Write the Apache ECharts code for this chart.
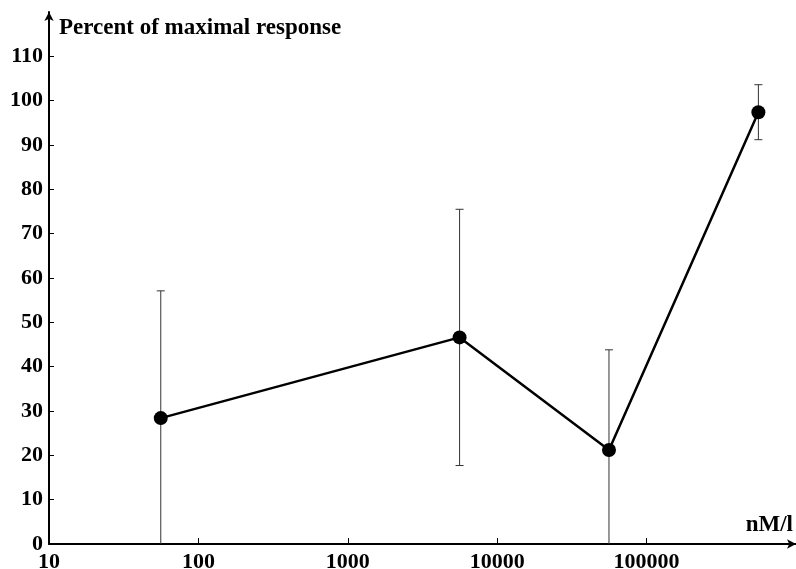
<!DOCTYPE html>
<html>
<head>
<meta charset="utf-8">
<script src="https://cdn.jsdelivr.net/npm/echarts@6/dist/echarts.min.js"></script>
<style>
html,body{margin:0;padding:0;background:#fff;}
#chart{width:796px;height:569px;}
</style>
</head>
<body>
<div id="chart"></div>
<script>
// Data
var concentrations = [56, 5600, 56000, 560000];          // nM/l
var meanResponse  = [28.4, 46.6, 21.2, 97.4];            // percent of maximal response
var errResponse   = [28.7, 28.9, 22.6, 6.2];             // +/- error
var xTickValues   = [10, 100, 1000, 10000, 100000];
var yTickValues   = [0, 10, 20, 30, 40, 50, 60, 70, 80, 90, 100, 110];
var yAxisTitle    = 'Percent of maximal response';
var xAxisTitle    = 'nM/l';

var FONT = '"Liberation Serif", "DejaVu Serif", serif';

var lineData = concentrations.map(function (c, i) { return [c, meanResponse[i]]; });
var errData = concentrations.map(function (c, i) {
  return [c, meanResponse[i] - errResponse[i], meanResponse[i] + errResponse[i]];
});

var chart = echarts.init(document.getElementById('chart'), null, {renderer: 'canvas'});
chart.setOption({
  animation: false,
  backgroundColor: '#fff',
  grid: {left: 49, right: 0, top: 12, bottom: 25, containLabel: false, outerBoundsMode: 'none'},
  xAxis: {
    type: 'log',
    logBase: 10,
    min: 10,
    max: 1000000,
    axisLine: {show: true, symbol: ['none', 'arrow'], symbolSize: [7, 9], lineStyle: {color: '#000', width: 2}},
    axisTick: {show: true, inside: true, length: 6, customValues: xTickValues, lineStyle: {color: '#000', width: 1}},
    axisLabel: {show: true, customValues: xTickValues, margin: 7, color: '#000', fontFamily: FONT, fontWeight: 'bold', fontSize: 22,
      formatter: function (v) { return String(Math.round(v)); }},
    splitLine: {show: false},
    minorTick: {show: false}
  },
  yAxis: {
    type: 'value',
    min: 0,
    max: 120,
    interval: 10,
    axisLine: {show: true, onZero: false, symbol: ['none', 'arrow'], symbolSize: [7, 9], lineStyle: {color: '#000', width: 2}},
    axisTick: {show: true, inside: true, length: 5, customValues: yTickValues, lineStyle: {color: '#000', width: 1}},
    axisLabel: {show: true, customValues: yTickValues, margin: 6, color: '#000', fontFamily: FONT, fontWeight: 'bold', fontSize: 22,
      formatter: function (v) { return String(Math.round(v)); }},
    splitLine: {show: false}
  },
  graphic: [
    {type: 'text', left: 59, top: 17, style: {text: yAxisTitle, fill: '#000', font: 'bold 23px ' + FONT}},
    {type: 'text', right: 3, top: 514, style: {text: xAxisTitle, fill: '#000', font: 'bold 23px ' + FONT}}
  ],
  series: [
    {
      type: 'custom',
      z: 1,
      data: errData,
      renderItem: function (params, api) {
        var x = api.value(0);
        var lo = api.value(1);
        var hi = api.value(2);
        var clipped = lo < 0;
        var top = api.coord([x, hi]);
        var bot = api.coord([x, Math.max(0, lo)]);
        var cw = 4;
        var style = {stroke: '#333', lineWidth: 1};
        var children = [
          {type: 'line', shape: {x1: top[0], y1: top[1], x2: bot[0], y2: bot[1]}, style: style},
          {type: 'line', shape: {x1: top[0] - cw, y1: top[1], x2: top[0] + cw, y2: top[1]}, style: style}
        ];
        if (!clipped) {
          children.push({type: 'line', shape: {x1: bot[0] - cw, y1: bot[1], x2: bot[0] + cw, y2: bot[1]}, style: style});
        }
        return {type: 'group', children: children};
      }
    },
    {
      type: 'line',
      z: 2,
      data: lineData,
      symbol: 'circle',
      symbolSize: 14,
      lineStyle: {color: '#000', width: 2.5},
      itemStyle: {color: '#000'}
    }
  ]
});
</script>
</body>
</html>
